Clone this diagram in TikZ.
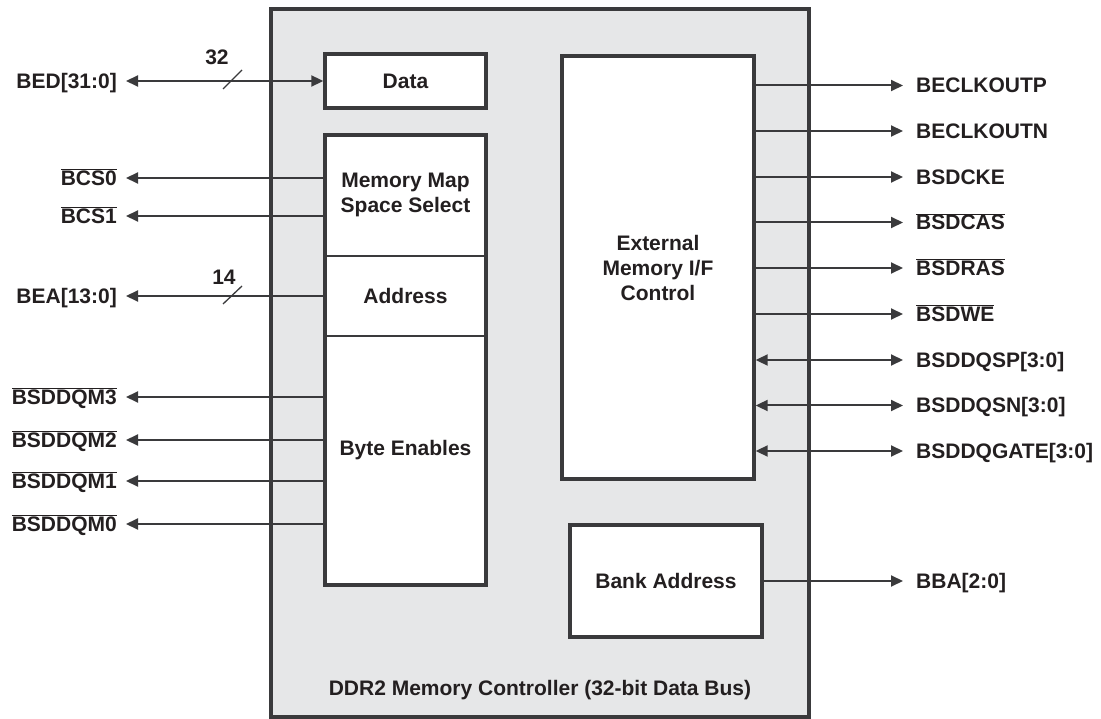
\documentclass[tikz,border=0pt]{standalone}
\usepackage{fontspec}
\setmainfont{Liberation Sans}
\usetikzlibrary{arrows.meta}
\definecolor{ln}{HTML}{3A3A3C}
\definecolor{bg}{HTML}{E6E7E8}
\definecolor{tx}{HTML}{231F20}
\newcommand{\ovl}[1]{$\overline{\hbox{#1}}$}
\begin{document}
\begin{tikzpicture}[x=1pt,y=-1pt,
  every node/.style={font=\fontsize{21}{25}\selectfont\bfseries, text=tx},
  blk/.style={draw=ln, line width=3.4pt, fill=white, inner sep=0pt, align=center},
  llab/.style={anchor=east, inner ysep=0pt, inner xsep=9pt, text height=15pt, text depth=0pt},
  rlab/.style={anchor=west, inner ysep=0pt, inner xsep=13pt, text height=15pt, text depth=0pt},
  arr/.style={draw=ln, line width=2pt, -{Triangle[length=12pt,width=11pt]}},
  arrb/.style={draw=ln, line width=2pt, {Triangle[length=12pt,width=11pt]}-{Triangle[length=12pt,width=11pt]}},
  slash/.style={draw=ln, line width=1.3pt}
]
\useasboundingbox (0,0) rectangle (1101,719);
% outer controller
\node[draw=ln, line width=3.4pt, fill=bg, minimum width=538pt, minimum height=708pt, inner sep=0pt] (outer) at (540,363) {};
\node (title) at (540,690) {DDR2 Memory Controller (32-bit Data Bus)};
% blocks
\node[blk, minimum width=161pt, minimum height=54pt] (data) at (405.5,81) {Data};
\node[blk, minimum width=161pt, minimum height=450pt] (lcol) at (405.5,360) {};
\node[blk, minimum width=192pt, minimum height=423pt] (ext) at (658,267.5) {External\\Memory I/F\\Control};
\node[blk, minimum width=192pt, minimum height=112pt] (bank) at (666,581) {Bank Address};
% dividers in left column
\coordinate (d1) at (405.5,256);
\coordinate (d2) at (405.5,336);
\draw[ln, line width=1.6pt] (lcol.west |- d1) -- (lcol.east |- d1);
\draw[ln, line width=1.6pt] (lcol.west |- d2) -- (lcol.east |- d2);
\node[align=center] (mmss) at (405.5,195) {Memory Map\\Space Select};
\node (addr) at (405.5,296) {Address};
\node (be) at (405.5,450) {Byte Enables};
% left labels
\node[llab] (bed) at (126,81) {BED[31:0]};
\node[llab] (bcs0) at (126,178) {\ovl{BCS0}};
\node[llab] (bcs1) at (126,216) {\ovl{BCS1}};
\node[llab] (bea) at (126,296) {BEA[13:0]};
\node[llab] (dqm3) at (126,397) {\ovl{BSDDQM3}};
\node[llab] (dqm2) at (126,440) {\ovl{BSDDQM2}};
\node[llab] (dqm1) at (126,481) {\ovl{BSDDQM1}};
\node[llab] (dqm0) at (126,524) {\ovl{BSDDQM0}};
\draw[arrb] (bed.east) -- (data.west);
\foreach \n in {bcs0,bcs1,bea,dqm3,dqm2,dqm1,dqm0}
  \draw[arr] (lcol.west |- \n.east) -- (\n.east);
% bus width marks
\draw[slash] (223,89) -- (242,70);
\node (w32) at (217,57) {32};
\draw[slash] (223,304) -- (242,286);
\node (w14) at (224,277) {14};
% right labels
\node[rlab] (clkp) at (903,85.5) {BECLKOUTP};
\node[rlab] (clkn) at (903,131) {BECLKOUTN};
\node[rlab] (cke) at (903,177) {BSDCKE};
\node[rlab] (cas) at (903,222.5) {\ovl{BSDCAS}};
\node[rlab] (ras) at (903,268) {\ovl{BSDRAS}};
\node[rlab] (we) at (903,314) {\ovl{BSDWE}};
\node[rlab] (qsp) at (903,360) {BSDDQSP[3:0]};
\node[rlab] (qsn) at (903,405.5) {BSDDQSN[3:0]};
\node[rlab] (gate) at (903,451) {BSDDQGATE[3:0]};
\node[rlab] (bba) at (903,581) {BBA[2:0]};
\foreach \n in {clkp,clkn,cke,cas,ras,we}
  \draw[arr] (ext.east |- \n.west) -- (\n.west);
\foreach \n in {qsp,qsn,gate}
  \draw[arrb] (ext.east |- \n.west) -- (\n.west);
\draw[arr] (bank.east |- bba.west) -- (bba.west);
\end{tikzpicture}
\end{document}
